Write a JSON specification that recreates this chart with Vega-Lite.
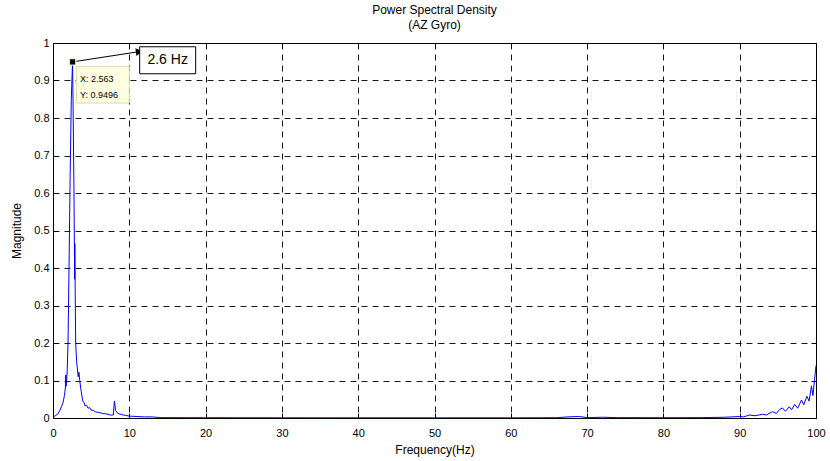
{
  "$schema": "https://vega.github.io/schema/vega-lite/v6.json",
  "autosize": {"type": "none"},
  "padding": {"left": 53, "top": 43, "right": 14, "bottom": 43},
  "width": 763,
  "height": 375,
  "background": "white",
  "config": {
    "font": "Liberation Sans",
    "view": {"stroke": "black", "strokeWidth": 1},
    "axis": {"labelFont": "Liberation Sans", "titleFont": "Liberation Sans", "labelFontSize": 11, "titleFontSize": 12, "titleFontWeight": "normal", "labelColor": "black", "titleColor": "black", "domainColor": "black", "tickColor": "black", "labelFlush": false}
  },
  "title": {
    "text": ["Power Spectral Density", "(AZ Gyro)"],
    "fontSize": 12, "fontWeight": "normal", "font": "Liberation Sans", "color": "black",
    "anchor": "middle", "offset": 5, "lineHeight": 15
  },
  "datasets": {
    "psd": [
      {"f": 0, "m": 0.003}, {"f": 0.3, "m": 0.006}, {"f": 0.6, "m": 0.01}, {"f": 0.9, "m": 0.02},
      {"f": 1.1, "m": 0.03}, {"f": 1.3, "m": 0.04}, {"f": 1.5, "m": 0.06}, {"f": 1.62, "m": 0.08},
      {"f": 1.67, "m": 0.115}, {"f": 1.72, "m": 0.085}, {"f": 1.85, "m": 0.12}, {"f": 1.97, "m": 0.2},
      {"f": 2.1, "m": 0.4}, {"f": 2.25, "m": 0.65}, {"f": 2.4, "m": 0.85}, {"f": 2.563, "m": 0.9496},
      {"f": 2.65, "m": 0.8}, {"f": 2.75, "m": 0.6}, {"f": 2.84, "m": 0.37}, {"f": 2.86, "m": 0.465},
      {"f": 2.9, "m": 0.36}, {"f": 2.97, "m": 0.2}, {"f": 3.1, "m": 0.15}, {"f": 3.3, "m": 0.11},
      {"f": 3.4, "m": 0.122}, {"f": 3.5, "m": 0.1}, {"f": 3.7, "m": 0.07}, {"f": 3.9, "m": 0.045},
      {"f": 4.1, "m": 0.04}, {"f": 4.2, "m": 0.032}, {"f": 4.4, "m": 0.034}, {"f": 4.6, "m": 0.026},
      {"f": 4.8, "m": 0.028}, {"f": 5.0, "m": 0.021}, {"f": 5.3, "m": 0.02}, {"f": 5.6, "m": 0.016},
      {"f": 6.0, "m": 0.015}, {"f": 6.5, "m": 0.012}, {"f": 7.0, "m": 0.011}, {"f": 7.5, "m": 0.008},
      {"f": 7.9, "m": 0.008}, {"f": 8.05, "m": 0.045}, {"f": 8.2, "m": 0.02}, {"f": 8.5, "m": 0.012},
      {"f": 9.0, "m": 0.009}, {"f": 9.5, "m": 0.007}, {"f": 10, "m": 0.005}, {"f": 11, "m": 0.004},
      {"f": 12, "m": 0.003}, {"f": 13, "m": 0.003}, {"f": 14, "m": 0.001}, {"f": 20, "m": 0.0008},
      {"f": 30, "m": 0.0006}, {"f": 40, "m": 0.0005}, {"f": 50, "m": 0.0005}, {"f": 60, "m": 0.0005},
      {"f": 66, "m": 0.0008}, {"f": 67.5, "m": 0.003}, {"f": 69, "m": 0.004}, {"f": 70, "m": 0.001},
      {"f": 72, "m": 0.002}, {"f": 74, "m": 0.001}, {"f": 80, "m": 0.0008}, {"f": 85, "m": 0.001},
      {"f": 88, "m": 0.002}, {"f": 90, "m": 0.004}, {"f": 90.5, "m": 0.003}, {"f": 91.3, "m": 0.008},
      {"f": 92, "m": 0.006}, {"f": 93, "m": 0.01}, {"f": 93.5, "m": 0.008}, {"f": 94.3, "m": 0.017},
      {"f": 94.8, "m": 0.012}, {"f": 95.2, "m": 0.022}, {"f": 95.6, "m": 0.027}, {"f": 96, "m": 0.018},
      {"f": 96.5, "m": 0.03}, {"f": 96.8, "m": 0.022}, {"f": 97.2, "m": 0.036}, {"f": 97.6, "m": 0.026},
      {"f": 98.1, "m": 0.048}, {"f": 98.4, "m": 0.035}, {"f": 98.8, "m": 0.058}, {"f": 99.1, "m": 0.045},
      {"f": 99.4, "m": 0.085}, {"f": 99.6, "m": 0.06}, {"f": 99.8, "m": 0.1}, {"f": 100, "m": 0.14}
    ],
    "peak": [{"f": 2.563, "m": 0.9496}],
    "arrow": [{"f": 2.563, "m": 0.9496, "f2": 11.3, "m2": 0.977}],
    "tip": [{"f": 11.3, "m": 0.977}],
    "dtbox": [{"x1": 3.07, "x2": 10.0, "y1": 0.84, "y2": 0.9376}],
    "dttext": [{"x": 3.55, "y": 0.905, "t": "X: 2.563"}, {"x": 3.55, "y": 0.862, "t": "Y: 0.9496"}],
    "lbox": [{"x1": 11.36, "x2": 18.7, "y1": 0.918, "y2": 0.99}],
    "ltext": [{"x": 15.03, "y": 0.954, "t": "2.6 Hz"}]
  },
  "resolve": {"axis": {"x": "independent", "y": "independent"}},
  "layer": [
    {
      "data": {"name": "psd"},
      "mark": {"type": "line", "color": "#0000ff", "strokeWidth": 1, "clip": true},
      "encoding": {
        "x": {"field": "f", "type": "quantitative", "scale": {"domain": [0, 100], "nice": false},
          "axis": {"title": "Frequency(Hz)", "values": [0,10,20,30,40,50,60,70,80,90,100], "grid": true, "gridColor": "#000", "gridDash": [6, 5], "gridOpacity": 0.9, "tickSize": -5, "labelPadding": 14, "titlePadding": 6, "domain": true}},
        "y": {"field": "m", "type": "quantitative", "scale": {"domain": [0, 1], "nice": false, "zero": true},
          "axis": {"title": "Magnitude", "values": [0,0.1,0.2,0.3,0.4,0.5,0.6,0.7,0.8,0.9,1], "format": ".1~f", "grid": true, "gridColor": "#000", "gridDash": [6, 5], "gridOpacity": 0.9, "tickSize": -5, "labelPadding": 9, "titlePadding": 10}}
      }
    },
    {
      "data": {"name": "arrow"},
      "mark": {"type": "rule", "color": "black", "strokeWidth": 1},
      "encoding": {
        "x": {"field": "f", "type": "quantitative", "axis": {"orient": "top", "labels": false, "title": null, "grid": false, "tickSize": -5, "values": [0,10,20,30,40,50,60,70,80,90,100]}},
        "y": {"field": "m", "type": "quantitative", "axis": {"orient": "right", "labels": false, "title": null, "grid": false, "tickSize": -5, "values": [0,0.1,0.2,0.3,0.4,0.5,0.6,0.7,0.8,0.9,1]}},
        "x2": {"field": "f2"},
        "y2": {"field": "m2"}
      }
    },
    {
      "data": {"name": "tip"},
      "mark": {"type": "point", "shape": "triangle-right", "filled": true, "color": "black", "size": 60, "angle": -8, "opacity": 1},
      "encoding": {
        "x": {"field": "f", "type": "quantitative", "axis": null},
        "y": {"field": "m", "type": "quantitative", "axis": null}
      }
    },
    {
      "data": {"name": "dtbox"},
      "mark": {"type": "rect", "fill": "#ffffe1", "stroke": "#d8d8b0", "strokeWidth": 1},
      "encoding": {
        "x": {"field": "x1", "type": "quantitative", "axis": null},
        "x2": {"field": "x2"},
        "y": {"field": "y1", "type": "quantitative", "axis": null},
        "y2": {"field": "y2"}
      }
    },
    {
      "data": {"name": "dttext"},
      "mark": {"type": "text", "align": "left", "baseline": "middle", "fontSize": 9, "font": "Liberation Sans", "color": "black"},
      "encoding": {
        "x": {"field": "x", "type": "quantitative", "axis": null},
        "y": {"field": "y", "type": "quantitative", "axis": null},
        "text": {"field": "t"}
      }
    },
    {
      "data": {"name": "peak"},
      "mark": {"type": "square", "color": "black", "size": 40, "opacity": 1, "stroke": "#ffffc0", "strokeWidth": 1},
      "encoding": {
        "x": {"field": "f", "type": "quantitative", "axis": null},
        "y": {"field": "m", "type": "quantitative", "axis": null}
      }
    },
    {
      "data": {"name": "lbox"},
      "mark": {"type": "rect", "fill": "white", "stroke": "black", "strokeWidth": 1},
      "encoding": {
        "x": {"field": "x1", "type": "quantitative", "axis": null},
        "x2": {"field": "x2"},
        "y": {"field": "y1", "type": "quantitative", "axis": null},
        "y2": {"field": "y2"}
      }
    },
    {
      "data": {"name": "ltext"},
      "mark": {"type": "text", "align": "center", "baseline": "middle", "fontSize": 14, "font": "Liberation Sans", "color": "black"},
      "encoding": {
        "x": {"field": "x", "type": "quantitative", "axis": null},
        "y": {"field": "y", "type": "quantitative", "axis": null},
        "text": {"field": "t"}
      }
    }
  ]
}
